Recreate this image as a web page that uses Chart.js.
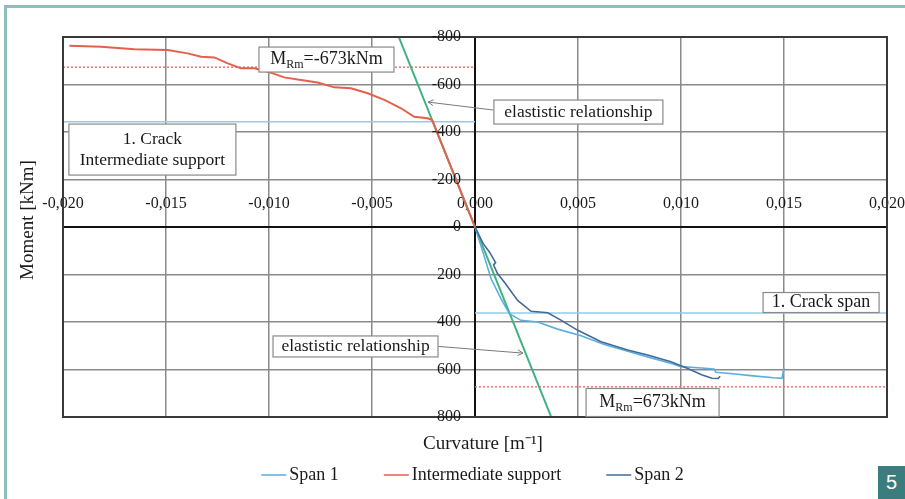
<!DOCTYPE html>
<html>
<head>
<meta charset="utf-8">
<script src="https://cdn.jsdelivr.net/npm/chart.js@4.4.1/dist/chart.umd.min.js"></script>
<style>
    html, body { margin: 0; padding: 0; background: #fff; }
    #wrap { position: relative; width: 905px; height: 499px; overflow: hidden; }
    #frame { position: absolute; left: 4px; top: 5px; width: 920px; height: 520px; border-top: 3px solid #8fbdbe; border-left: 3px solid #8fbdbe; }
    #chart_moment { position: absolute; left: 0; top: 0; }
    #figno { position: absolute; left: 878px; top: 466px; width: 27px; height: 33px; background: #3b7d7e; color: #fff;
             font: 20px 'Liberation Sans', Arial, sans-serif; text-align: center; line-height: 33px; }
</style>
</head>
<body>
<div id="wrap">
    <div id="frame"></div>
    <canvas id="chart_moment" width="905" height="499"></canvas>
    <div id="figno">5</div>
</div>
<script>
// curvature [1/m] and moment [kNm]
var span1_curvature = [0, 0.0004, 0.00078, 0.00126, 0.00167, 0.00223, 0.00304, 0.00401, 0.00515, 0.00628, 0.0075, 0.0085, 0.0095, 0.0100, 0.0110, 0.0116, 0.0117, 0.0125, 0.0135, 0.0145, 0.0149, 0.0150];
var span1_moment = [0, 110, 218, 302, 365, 393, 400, 430, 458, 495, 525, 550, 574, 588, 594, 598, 612, 618, 627, 635, 637, 592];

var span2_curvature = [0, 0.0004, 0.0007, 0.0010, 0.0009, 0.0011, 0.00142, 0.00207, 0.00272, 0.00353, 0.00417, 0.00499, 0.00612, 0.00741, 0.00838, 0.00951, 0.0103, 0.0110, 0.0115, 0.0118, 0.0119];
var span2_moment = [0, 70, 105, 150, 160, 197, 232, 309, 355, 361, 392, 435, 483, 518, 539, 567, 595, 622, 637, 638, 628];

var support_curvature = [0, -0.0005, -0.001, -0.0015, -0.00208, -0.0023, -0.00295, -0.00359, -0.0044, -0.00521, -0.00602, -0.00683, -0.00764, -0.00845, -0.00926, -0.01006, -0.01071, -0.01136, -0.0120, -0.01265, -0.0133, -0.01395, -0.01492, -0.01654, -0.01816, -0.01969];
var support_moment = [0, -108, -216, -325, -450, -458, -464, -500, -535, -563, -584, -588, -608, -619, -630, -654, -668, -668, -689, -714, -717, -731, -745, -748, -759, -763];

var elastic_curvature = [-0.0037, 0.0037];
var elastic_moment = [-800, 800];

var crack_support_moment = -443;
var crack_span_moment = 362;
var mrm_moment = 673;

var curvature_ticks = [-0.020, -0.015, -0.010, -0.005, 0, 0.005, 0.010, 0.015, 0.020];
var moment_ticks = [-800, -600, -400, -200, 0, 200, 400, 600, 800];
var legend_labels = ['Span 1', 'Intermediate support', 'Span 2'];

var serif = '"Liberation Serif", "Times New Roman", serif';

function toPoints(xs, ys) {
    return xs.map(function (x, i) { return { x: x, y: ys[i] }; });
}

function flatLine(x1, x2, y) {
    return [{ x: x1, y: y }, { x: x2, y: y }];
}

var datasets = [
    { label: 'Span 2', data: toPoints(span2_curvature, span2_moment), borderColor: '#44699c', borderWidth: 1.6 },
    { label: 'Span 1', data: toPoints(span1_curvature, span1_moment), borderColor: '#5aaee0', borderWidth: 1.6 },
    { label: 'Intermediate support', data: toPoints(support_curvature, support_moment), borderColor: '#e4604c', borderWidth: 2 },
    { label: 'elastic', data: toPoints(elastic_curvature, elastic_moment), borderColor: '#3eb27e', borderWidth: 2 },
    { label: 'crack support', data: flatLine(curvature_ticks[0], 0, crack_support_moment), borderColor: '#93cbe8', borderWidth: 1.5 },
    { label: 'crack span', data: flatLine(0, curvature_ticks[8], crack_span_moment), borderColor: '#93cbe8', borderWidth: 1.5 },
    { label: 'MRm support', data: flatLine(curvature_ticks[0], 0, -mrm_moment), borderColor: '#e8786a', borderWidth: 1.5, borderDash: [2, 2] },
    { label: 'MRm span', data: flatLine(0, curvature_ticks[8], mrm_moment), borderColor: '#e8786a', borderWidth: 1.5, borderDash: [2, 2] }
];

function gridColor(c) { return c.tick && c.tick.value === 0 ? '#111' : '#8a8a8a'; }
function gridWidth(c) { return c.tick && c.tick.value === 0 ? 2 : 1.5; }

// boxes with text, placed in data units
function drawBox(ctx, x, y, w, h) {
    ctx.fillStyle = '#fff';
    ctx.fillRect(x - w / 2, y - h / 2, w, h);
    ctx.strokeStyle = '#8a8a8a';
    ctx.lineWidth = 1.2;
    ctx.strokeRect(x - w / 2, y - h / 2, w, h);
}

function drawArrow(ctx, x1, y1, x2, y2) {
    ctx.strokeStyle = '#7a7a7a';
    ctx.lineWidth = 1;
    ctx.beginPath();
    ctx.moveTo(x1, y1);
    ctx.lineTo(x2, y2);
    var a = Math.atan2(y2 - y1, x2 - x1);
    ctx.moveTo(x2 - 6 * Math.cos(a - 0.5), y2 - 6 * Math.sin(a - 0.5));
    ctx.lineTo(x2, y2);
    ctx.lineTo(x2 - 6 * Math.cos(a + 0.5), y2 - 6 * Math.sin(a + 0.5));
    ctx.stroke();
}

function drawMrm(ctx, x, y, value) {
    var parts = ['M', 'Rm', '=' + value + 'kNm'];
    ctx.font = '18px ' + serif;
    var w0 = ctx.measureText(parts[0]).width, w2 = ctx.measureText(parts[2]).width;
    ctx.font = '12px ' + serif;
    var w1 = ctx.measureText(parts[1]).width;
    var left = x - (w0 + w1 + w2) / 2;
    ctx.textAlign = 'left';
    ctx.fillStyle = '#1a1a1a';
    ctx.font = '18px ' + serif;
    ctx.fillText(parts[0], left, y);
    ctx.fillText(parts[2], left + w0 + w1, y);
    ctx.font = '12px ' + serif;
    ctx.fillText(parts[1], left + w0, y + 5);
}

var figurePlugin = {
    id: 'figure',
    afterDatasetsDraw: function (chart) {
        var ctx = chart.ctx, xs = chart.scales.x, ys = chart.scales.y, area = chart.chartArea;
        var px = function (v) { return xs.getPixelForValue(v); };
        var py = function (v) { return ys.getPixelForValue(v); };
        ctx.save();

        ctx.strokeStyle = '#3a3a3a';
        ctx.lineWidth = 2;
        ctx.strokeRect(area.left, area.top, area.right - area.left, area.bottom - area.top);

        // moment labels sit left of the vertical axis
        ctx.font = '16px ' + serif;
        ctx.fillStyle = '#1a1a1a';
        ctx.textAlign = 'right';
        ctx.textBaseline = 'middle';
        ys.ticks.forEach(function (t) {
            var txt = t.value < 0 ? '-' + Math.abs(t.value) : String(t.value);
            ctx.fillText(txt, px(0) - 14, py(t.value));
        });

        // annotation boxes
        drawBox(ctx, px(-0.00721), py(-705), 135, 25);
        drawMrm(ctx, px(-0.00721), py(-705), '-' + mrm_moment);

        drawArrow(ctx, px(0.00502) - 85, py(-484) - 2, px(-0.00228), py(-526));
        drawBox(ctx, px(0.00502), py(-484), 169, 24);
        ctx.font = '17.5px ' + serif;
        ctx.textAlign = 'center';
        ctx.fillStyle = '#1a1a1a';
        ctx.fillText('elastistic relationship', px(0.00502), py(-484));

        drawBox(ctx, px(-0.01566), py(-326), 167, 51);
        ctx.font = '17.5px ' + serif;
        ctx.textAlign = 'center';
        ctx.fillStyle = '#1a1a1a';
        ctx.fillText('1. Crack', px(-0.01566), py(-326) - 10);
        ctx.fillText('Intermediate support', px(-0.01566), py(-326) + 11);

        drawBox(ctx, px(0.0168), py(318), 116, 20);
        ctx.font = '18px ' + serif;
        ctx.fillStyle = '#1a1a1a';
        ctx.fillText('1. Crack span', px(0.0168), py(318));

        drawBox(ctx, px(0.00862), py(739), 133, 28);
        drawMrm(ctx, px(0.00862), py(739), mrm_moment);

        drawArrow(ctx, px(-0.0058) + 83, py(503), px(0.00233), py(531));
        drawBox(ctx, px(-0.0058), py(503), 165, 21);
        ctx.font = '17.5px ' + serif;
        ctx.textAlign = 'center';
        ctx.fillStyle = '#1a1a1a';
        ctx.fillText('elastistic relationship', px(-0.0058), py(503));

        // axis titles
        ctx.font = '19px ' + serif;
        ctx.fillText('Curvature [m\u207B\u00B9]', 483, 444);
        ctx.save();
        ctx.translate(28, 220);
        ctx.rotate(-Math.PI / 2);
        ctx.fillText('Moment [kNm]', 0, 0);
        ctx.restore();

        // legend
        ctx.font = '18px ' + serif;
        var items = legend_labels.map(function (l) {
            var ds = chart.data.datasets.find(function (d) { return d.label === l; });
            return { text: l, color: ds.borderColor, w: 28 + ctx.measureText(l).width };
        });
        var total = items.reduce(function (s, it) { return s + it.w; }, 0) + 45 * (items.length - 1);
        var lx = 472.5 - total / 2;
        items.forEach(function (it) {
            ctx.strokeStyle = it.color;
            ctx.lineWidth = 1.5;
            ctx.beginPath();
            ctx.moveTo(lx, 475);
            ctx.lineTo(lx + 25, 475);
            ctx.stroke();
            ctx.fillStyle = '#1a1a1a';
            ctx.textAlign = 'left';
            ctx.fillText(it.text, lx + 28, 475);
            lx += it.w + 45;
        });
        ctx.restore();
    }
};

var moment_chart = new Chart(document.getElementById('chart_moment').getContext('2d'), {
    type: 'scatter',
    data: { datasets: datasets },
    options: {
        responsive: false,
        animation: false,
        showLine: true,
        layout: { padding: { left: 63, right: 18, top: 37, bottom: 82 } },
        elements: { point: { radius: 0 }, line: { tension: 0, fill: false } },
        plugins: { legend: { display: false }, tooltip: { enabled: false } },
        scales: {
            x: {
                type: 'linear',
                position: { y: 0 },
                min: curvature_ticks[0],
                max: curvature_ticks[curvature_ticks.length - 1],
                afterBuildTicks: function (scale) {
                    scale.ticks = curvature_ticks.map(function (v) { return { value: v }; });
                },
                ticks: {
                    autoSkip: false,
                    maxRotation: 0,
                    padding: -33,
                    color: '#1a1a1a',
                    font: { family: serif, size: 16 },
                    callback: function (v) { return v.toFixed(3).replace('.', ','); }
                },
                grid: { color: gridColor, lineWidth: gridWidth, drawTicks: false },
                border: { color: '#111', width: 2 }
            },
            y: {
                type: 'linear',
                position: { x: 0 },
                reverse: true,
                min: moment_ticks[0],
                max: moment_ticks[moment_ticks.length - 1],
                afterBuildTicks: function (scale) {
                    scale.ticks = moment_ticks.map(function (v) { return { value: v }; });
                },
                ticks: { display: false },
                grid: { color: gridColor, lineWidth: gridWidth, drawTicks: false },
                border: { color: '#111', width: 2 }
            }
        }
    },
    plugins: [figurePlugin]
});
</script>
</body>
</html>
